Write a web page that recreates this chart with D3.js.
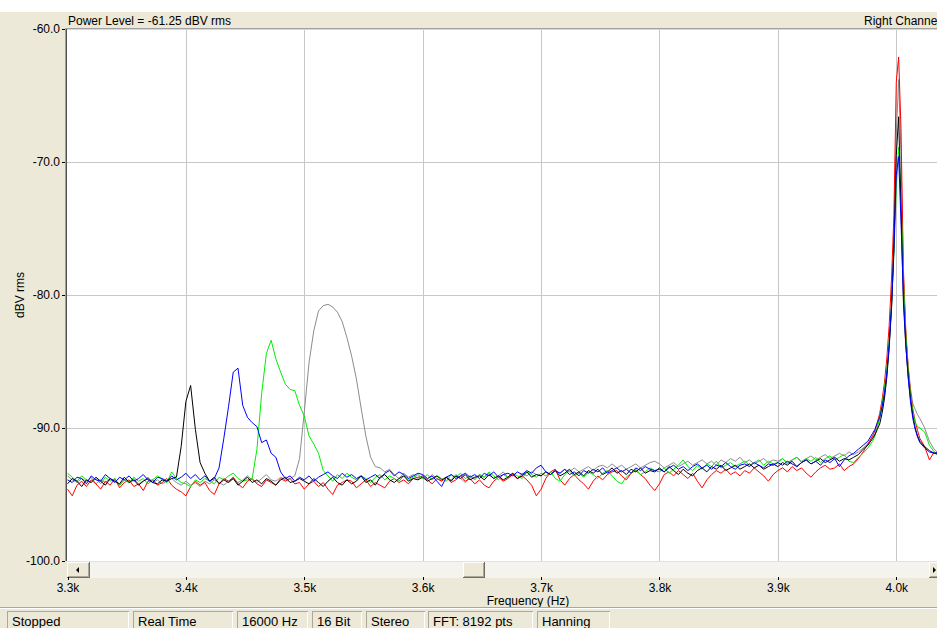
<!DOCTYPE html>
<html>
<head>
<meta charset="utf-8">
<script src="https://cdn.jsdelivr.net/npm/d3@7"></script>
<style>
html, body { margin: 0; padding: 0; background: #fff; overflow: hidden; }
svg { display: block; font-family: "Liberation Sans", Arial, sans-serif; }
</style>
</head>
<body>
<svg id="chart" width="937" height="628"></svg>
<script>
// ---- Axis ticks -------------------------------------------------------
const xTicks = [3300, 3400, 3500, 3600, 3700, 3800, 3900, 4000];
const xTickLabels = ["3.3k", "3.4k", "3.5k", "3.6k", "3.7k", "3.8k", "3.9k", "4.0k"];
const yTicks = [-60, -70, -80, -90, -100];

// ---- Frequency grid (Hz): 4 Hz bins, 2 Hz around the 4 kHz tone ------
const freqs = [].concat(
  d3.range(3300, 3981, 4),
  d3.range(3982, 4021, 2),
  d3.range(4024, 4037, 4)
);

// ---- Spectrum traces (dBV rms), one value per frequency bin ----------
const blackTrace = [
  -94.2, -93.8, -94.0, -94.4, -93.9, -94.1, -93.7, -94.0, -94.3, -93.8, -94.0, -94.2, -93.7, -94.1, -93.9, -94.3, -94.0, -93.8, -94.1, -94.2, -93.9, -94.0, -93.8, -93.7, -91.4,
  -88.0, -86.8, -90.1, -92.6, -93.4, -94.0, -93.7, -94.2, -93.9, -94.1, -93.8, -94.3, -94.0, -93.7, -94.1, -93.9, -94.2, -93.8, -94.0, -94.3, -93.9, -93.7, -94.1, -94.0, -93.8,
  -94.0, -94.2, -93.8, -94.1, -94.4, -94.0, -93.7, -94.1, -94.3, -93.9, -94.2, -94.0, -93.6, -94.1, -93.9, -94.3, -93.7, -93.5, -93.9, -94.1, -93.8, -93.6, -94.0, -93.8, -93.9,
  -93.7, -94.0, -93.8, -93.6, -93.9, -93.7, -94.0, -93.6, -93.8, -93.5, -93.9, -93.7, -93.6, -93.9, -93.5, -93.8, -93.6, -93.9, -93.7, -93.4, -93.8, -93.6, -93.3, -93.7, -93.5,
  -93.6, -93.3, -93.5, -93.2, -93.6, -93.4, -93.1, -93.5, -93.3, -93.6, -93.2, -93.4, -93.1, -93.5, -93.3, -93.0, -93.4, -93.2, -93.5, -93.1, -93.3, -93.0, -93.4, -93.2, -93.3,
  -93.0, -93.3, -92.9, -93.2, -93.5, -93.1, -93.4, -93.6, -93.2, -93.0, -93.3, -92.9, -93.1, -92.8, -93.2, -93.0, -92.8, -93.1, -92.9, -92.7, -93.0, -92.8, -93.1, -92.9, -92.7,
  -92.9, -92.6, -92.8, -92.5, -92.9, -92.6, -92.4, -92.7, -92.5, -92.3, -92.6, -92.4, -92.2, -92.5, -92.3, -92.4, -92.2, -92.0, -91.6, -91.3, -90.8,
  -90.5, -90.1, -89.7, -88.9, -87.8, -86.2, -84.0, -81.0, -76.5, -69.5, -66.6, -73.5, -80.5, -83.8, -86.0, -87.8, -89.1, -90.0, -90.6, -91.0,
  -91.4, -91.7, -91.9, -92.0
];

const blueTrace = [
  -93.9, -94.1, -93.7, -93.8, -94.2, -93.6, -93.9, -94.0, -93.5, -93.8, -94.1, -93.7, -93.9, -93.6, -94.0, -93.8, -93.5, -93.9, -94.1, -93.7, -93.8, -94.0, -93.6, -93.9, -93.7,
  -93.4, -93.8, -93.5, -93.9, -93.6, -94.0, -93.8, -93.0, -90.8, -88.4, -85.8, -85.5, -88.3, -89.2, -89.6, -89.9, -91.1, -90.9, -91.9, -92.2, -93.3, -93.8, -93.6, -94.0, -93.7,
  -93.9, -93.6, -94.0, -93.7, -93.5, -93.3, -93.6, -93.8, -93.4, -93.7, -93.5, -93.8, -93.6, -93.9, -93.7, -93.5, -93.8, -93.4, -93.2, -93.6, -93.3, -93.5, -93.8, -93.6, -93.4,
  -93.5, -93.8, -93.6, -94.0, -94.4, -93.7, -93.5, -93.8, -93.6, -93.4, -93.7, -93.5, -93.8, -93.4, -93.6, -93.3, -93.7, -93.5, -93.4, -93.6, -93.3, -93.5, -93.2, -93.4, -93.0,
  -92.8, -93.3, -93.5, -93.2, -93.4, -93.1, -93.5, -93.3, -93.6, -93.2, -93.4, -93.1, -93.3, -93.0, -93.4, -93.2, -93.0, -93.3, -93.1, -93.4, -93.0, -93.2, -92.9, -93.1, -93.2,
  -93.1, -93.3, -93.0, -92.8, -93.1, -92.9, -93.2, -92.9, -92.7, -93.0, -92.8, -93.1, -92.8, -92.9, -92.6, -92.9, -93.1, -92.8, -92.7, -92.9, -92.6, -92.8, -93.0, -92.7, -92.8,
  -92.6, -92.8, -92.5, -92.7, -92.9, -92.6, -92.4, -92.7, -92.5, -92.8, -92.4, -92.6, -92.3, -92.9, -92.4, -92.1, -91.9, -91.6, -91.3, -91.0, -90.4,
  -90.1, -89.6, -89.2, -88.4, -87.4, -85.9, -83.7, -80.8, -76.5, -71.0, -69.6, -74.5, -80.0, -83.6, -86.2, -88.0, -89.3, -90.1, -90.7, -91.1,
  -91.5, -91.8, -91.9, -91.8
];

const greenTrace = [
  -93.4, -93.7, -94.0, -93.6, -93.9, -94.1, -93.8, -94.2, -93.7, -94.0, -93.8, -94.3, -93.9, -94.1, -93.7, -94.0, -93.8, -94.2, -93.9, -93.6, -93.9, -94.1, -93.3, -93.8, -94.1,
  -94.2, -94.4, -93.9, -94.1, -93.8, -94.0, -94.2, -93.7, -93.9, -93.6, -93.4, -93.8, -94.0, -93.9, -93.8, -91.6, -87.4, -84.4, -83.4, -84.8, -85.8, -86.7, -87.1, -87.2, -88.3,
  -89.1, -90.6, -91.2, -91.9, -93.2, -93.6, -94.0, -93.5, -93.8, -93.4, -93.7, -93.9, -93.6, -93.8, -94.1, -93.7, -93.5, -93.9, -93.6, -93.8, -94.0, -93.6, -93.9, -93.7, -93.5,
  -93.8, -93.5, -93.9, -93.6, -93.8, -94.0, -93.5, -93.7, -93.4, -93.8, -93.6, -93.9, -93.5, -93.7, -93.3, -93.6, -93.9, -93.5, -93.7, -93.4, -93.6, -93.8, -93.3, -93.5, -93.7,
  -93.4, -93.6, -93.3, -93.8, -94.0, -93.5, -93.2, -93.6, -93.4, -93.7, -93.3, -93.5, -93.8, -93.4, -93.2, -93.6, -94.0, -94.2, -93.7, -93.4, -93.1, -93.5, -93.3, -93.0, -93.2,
  -93.3, -93.0, -93.4, -93.1, -92.8, -92.4, -92.9, -93.2, -92.8, -93.1, -92.7, -92.9, -92.5, -93.0, -92.8, -92.6, -92.9, -92.7, -92.5, -92.8, -92.6, -92.4, -92.8, -92.5, -92.7,
  -92.6, -92.3, -92.7, -92.4, -92.2, -92.6, -92.3, -92.5, -92.2, -92.6, -92.3, -92.1, -92.4, -92.2, -92.0, -92.5, -92.6, -92.2, -91.9, -91.5, -91.0,
  -90.6, -90.0, -89.2, -88.2, -87.0, -85.6, -83.5, -80.8, -77.0, -72.0, -68.9, -72.5, -79.0, -83.0, -85.6, -87.5, -88.8, -89.6, -89.9, -90.0,
  -90.3, -91.3, -91.8, -92.1
];

const grayTrace = [
  -93.6, -93.9, -94.1, -93.8, -94.0, -93.7, -94.2, -93.9, -94.1, -93.8, -94.0, -94.3, -93.9, -94.1, -93.8, -94.2, -94.0, -93.7, -94.1, -93.9, -94.2, -94.0, -93.8, -94.1, -94.3,
  -94.0, -94.3, -94.1, -94.4, -94.0, -94.2, -93.9, -94.1, -94.3, -94.0, -93.8, -94.1, -93.9, -93.6, -93.9, -94.1, -93.8, -93.5, -93.9, -94.0, -93.7, -93.9, -93.8, -93.6, -92.3,
  -88.8, -85.1, -82.7, -81.2, -80.8, -80.7, -80.9, -81.3, -82.0, -83.2, -84.6, -86.3, -88.5, -90.6, -92.2, -92.9, -93.0, -93.3, -93.1, -93.5, -93.8, -93.4, -93.7, -93.5, -93.8,
  -93.6, -93.9, -93.5, -93.8, -94.0, -93.7, -93.9, -93.5, -93.8, -94.1, -93.6, -93.8, -93.5, -93.7, -93.4, -93.8, -93.6, -93.3, -93.7, -93.5, -93.8, -93.4, -93.6, -93.3, -93.5,
  -93.6, -93.3, -93.5, -93.2, -93.4, -93.1, -93.3, -93.0, -93.3, -93.1, -92.9, -93.2, -92.9, -92.8, -93.0, -92.7, -93.0, -92.8, -93.1, -92.9, -92.7, -93.0, -92.8, -92.6, -92.5,
  -92.7, -93.0, -92.8, -92.6, -92.9, -92.7, -92.5, -92.8, -92.6, -92.4, -92.7, -92.5, -92.8, -92.4, -92.6, -92.3, -92.5, -92.2, -92.6, -92.4, -92.7, -92.5, -92.3, -92.6, -92.4,
  -92.5, -92.3, -92.6, -92.4, -92.2, -92.5, -92.3, -92.1, -92.4, -92.2, -92.0, -92.3, -92.1, -91.9, -92.1, -91.8, -92.0, -91.8, -91.5, -91.2, -90.7,
  -90.4, -89.9, -89.3, -88.5, -87.5, -86.0, -83.8, -80.6, -76.0, -68.0, -63.8, -69.5, -78.5, -82.8, -85.3, -87.0, -88.2, -88.6, -89.0, -89.3,
  -90.0, -91.0, -91.6, -91.9
];

const redTrace = [
  -94.6, -95.1, -94.3, -94.0, -94.4, -93.9, -94.2, -94.6, -94.0, -94.3, -93.8, -94.5, -94.1, -93.9, -94.4, -94.2, -94.7, -94.0, -93.9, -94.3, -94.1, -93.8, -94.3, -94.6, -94.8,
  -95.1, -94.4, -94.0, -94.3, -94.1, -94.7, -95.0, -94.2, -93.8, -94.0, -93.7, -94.2, -94.5, -94.0, -93.8, -94.2, -94.4, -93.9, -94.1, -94.3, -93.8, -94.0, -93.8, -94.2, -94.1,
  -94.6, -94.2, -94.0, -94.4, -94.1, -94.6, -95.0, -94.3, -94.1, -93.9, -94.0, -94.5, -94.2, -93.9, -94.4, -94.1, -94.3, -94.5, -94.0, -93.8, -94.1, -93.9, -94.2, -93.8, -93.7,
  -93.6, -93.9, -94.2, -93.8, -94.0, -93.7, -94.1, -93.9, -93.6, -94.0, -93.8, -94.2, -93.9, -94.3, -94.5, -94.0, -93.7, -94.0, -93.8, -93.5, -93.8, -93.6, -93.9, -94.3, -95.1,
  -94.6, -93.8, -93.3, -93.1, -93.9, -94.3, -93.8, -93.5, -93.9, -94.2, -94.6, -94.0, -93.6, -93.9, -93.5, -93.3, -93.2, -93.6, -93.9, -93.4, -93.2, -93.5, -93.8, -94.3, -94.7,
  -94.2, -93.5, -93.3, -93.6, -93.2, -93.5, -93.8, -93.4, -94.0, -94.5, -93.9, -93.5, -93.2, -93.4, -93.1, -93.5, -93.3, -93.6, -93.2, -93.4, -93.0, -93.3, -93.6, -94.0, -93.5,
  -93.2, -93.0, -93.3, -92.9, -93.2, -93.0, -93.4, -93.7, -93.3, -93.0, -92.8, -93.1, -93.0, -92.7, -93.2, -92.9, -92.7, -92.3, -91.8, -91.2, -90.6,
  -90.2, -89.6, -88.9, -87.9, -86.6, -84.8, -82.3, -78.8, -74.0, -64.0, -62.1, -67.5, -78.0, -82.6, -85.4, -87.3, -88.6, -89.5, -90.2, -90.8,
  -91.4, -92.4, -91.8, -92.0
];

// Drawing order (back to front) and trace colours
const traceOrder = ["gray", "red", "green", "black", "blue"];
const traceColors = { gray: "#8c8c8c", red: "#ff0000", green: "#00ee00", black: "#000000", blue: "#0000ff" };
const traceValues = { gray: grayTrace, red: redTrace, green: greenTrace, black: blackTrace, blue: blueTrace };

// ---- Layout -----------------------------------------------------------
const W = 937, H = 628;
const plot = { left: 67, top: 29, right: 937, bottom: 561 };
const face = "#ECE9D8";

const svg = d3.select("#chart");

const x = d3.scaleLinear().domain([3300, 4034.4]).range([67.5, 937]);
const y = d3.scaleLinear().domain([-100, -60]).range([561, 29]);

// window background
svg.append("rect").attr("x", 0).attr("y", 12).attr("width", W).attr("height", H - 12).attr("fill", face);

// plot area
svg.append("rect")
  .attr("x", plot.left).attr("y", plot.top)
  .attr("width", plot.right - plot.left).attr("height", plot.bottom - plot.top)
  .attr("fill", "#ffffff");

// grid
const grid = svg.append("g").attr("shape-rendering", "crispEdges").attr("stroke", "#c8c8c8").attr("stroke-width", 1);
grid.selectAll("line.v").data(xTicks.slice(1)).join("line").attr("class", "v")
  .attr("x1", d => Math.round(x(d)) + 0.5).attr("x2", d => Math.round(x(d)) + 0.5)
  .attr("y1", plot.top).attr("y2", plot.bottom);
grid.selectAll("line.h").data(yTicks.filter(d => d > -100 && d < -60)).join("line").attr("class", "h")
  .attr("x1", plot.left).attr("x2", plot.right)
  .attr("y1", d => Math.round(y(d)) + 0.5).attr("y2", d => Math.round(y(d)) + 0.5);

// traces
svg.append("clipPath").attr("id", "plotClip").append("rect")
  .attr("x", plot.left).attr("y", plot.top)
  .attr("width", plot.right - plot.left).attr("height", plot.bottom - plot.top);

const line = d3.line().x((d, i) => x(freqs[i])).y(d => y(d));
const traces = svg.append("g").attr("clip-path", "url(#plotClip)");
traceOrder.forEach(name => {
  traces.append("path")
    .datum(traceValues[name])
    .attr("fill", "none")
    .attr("stroke", traceColors[name])
    .attr("stroke-width", 1)
    .attr("stroke-linejoin", "round")
    .attr("d", line);
});

// sunken plot border (top + left)
const border = svg.append("g").attr("shape-rendering", "crispEdges");
border.append("line").attr("x1", 65).attr("x2", W).attr("y1", 28.5).attr("y2", 28.5).attr("stroke", "#a0a0a0");
border.append("line").attr("x1", 66).attr("x2", W).attr("y1", 29.5).attr("y2", 29.5).attr("stroke", "#d8d8d8");
border.append("line").attr("x1", 65.5).attr("x2", 65.5).attr("y1", 28).attr("y2", 561).attr("stroke", "#a0a0a0");
border.append("line").attr("x1", 66.5).attr("x2", 66.5).attr("y1", 29).attr("y2", 561).attr("stroke", "#505050");

// y axis
const yAxis = svg.append("g")
  .attr("transform", "translate(65,0)")
  .call(d3.axisLeft(y).tickValues(yTicks).tickSize(3).tickPadding(2).tickFormat(d => d.toFixed(1)));
yAxis.select(".domain").remove();
yAxis.selectAll("line").attr("stroke", "#000").attr("shape-rendering", "crispEdges");
yAxis.selectAll("text").attr("font-size", 12).attr("fill", "#000").attr("font-family", "Liberation Sans, Arial, sans-serif");

svg.append("text")
  .attr("transform", "translate(24,295) rotate(-90)")
  .attr("text-anchor", "middle")
  .attr("font-size", 12)
  .attr("fill", "#000")
  .text("dBV rms");

// header texts (the channel name runs past the window edge)
svg.append("text").attr("x", 68).attr("y", 25).attr("font-size", 12).attr("fill", "#000")
  .text("Power Level = -61.25 dBV rms");
svg.append("text").attr("x", 864).attr("y", 25).attr("font-size", 12).attr("fill", "#000")
  .text("Right Channel");

// ---- horizontal scrollbar --------------------------------------------
const sb = svg.append("g").attr("shape-rendering", "crispEdges");
sb.append("rect").attr("x", 67).attr("y", 561).attr("width", W - 67).attr("height", 17).attr("fill", "#f4f3ee");
sb.append("line").attr("x1", 67).attr("x2", W).attr("y1", 561.5).attr("y2", 561.5).attr("stroke", "#e2e1da");

function raisedButton(g, bx, by, bw, bh) {
  g.append("rect").attr("x", bx).attr("y", by).attr("width", bw).attr("height", bh).attr("fill", face);
  g.append("path").attr("fill", "none").attr("stroke", "#ffffff")
    .attr("d", `M${bx + 0.5},${by + bh - 1}V${by + 0.5}H${bx + bw - 1}`);
  g.append("path").attr("fill", "none").attr("stroke", "#aca899")
    .attr("d", `M${bx + 1},${by + bh - 1.5}H${bx + bw - 1.5}V${by + 1}`);
  g.append("path").attr("fill", "none").attr("stroke", "#716f64")
    .attr("d", `M${bx},${by + bh - 0.5}H${bx + bw - 0.5}V${by}`);
}
raisedButton(sb, 67, 562, 23, 16);
raisedButton(sb, 463, 562, 22, 16);
raisedButton(sb, 929, 562, 12, 16);
svg.append("path").attr("fill", "#000").attr("d", "M76,570 L79,567 L79,573 Z");
svg.append("path").attr("fill", "#000").attr("d", "M936,570 L933,567 L933,573 Z");

// x axis
const xAxis = svg.append("g")
  .attr("transform", "translate(0,577)")
  .call(d3.axisBottom(x).tickValues(xTicks).tickSize(3).tickPadding(3).tickFormat((d, i) => xTickLabels[i]));
xAxis.select(".domain").remove();
xAxis.selectAll("line").attr("stroke", "#000").attr("shape-rendering", "crispEdges");
xAxis.selectAll("text").attr("font-size", 12).attr("fill", "#000").attr("font-family", "Liberation Sans, Arial, sans-serif");

svg.append("text").attr("x", 528).attr("y", 605).attr("text-anchor", "middle").attr("font-size", 12).attr("fill", "#000")
  .text("Frequency (Hz)");

// ---- status bar ------------------------------------------------------
const status = svg.append("g").attr("shape-rendering", "crispEdges");
status.append("line").attr("x1", 0).attr("x2", W).attr("y1", 607.5).attr("y2", 607.5).attr("stroke", "#aca899");
status.append("line").attr("x1", 0).attr("x2", W).attr("y1", 608.5).attr("y2", 608.5).attr("stroke", "#ffffff");

const statusLabels = ["Stopped", "Real Time", "16000 Hz", "16 Bit", "Stereo", "FFT: 8192 pts", "Hanning"];
const statusPanels = [[7, 129], [133, 233], [237, 308], [312, 362], [366, 425], [428, 533], [537, 610]];
statusPanels.forEach((p, i) => {
  const [a, b] = p;
  status.append("path").attr("fill", "none").attr("stroke", "#aca899")
    .attr("d", `M${a + 0.5},${H}V${611.5}H${b}`);
  status.append("path").attr("fill", "none").attr("stroke", "#ffffff")
    .attr("d", `M${b - 0.5},${612}V${H}`);
  svg.append("text").attr("x", a + 5).attr("y", 626).attr("font-size", 13).attr("fill", "#000")
    .text(statusLabels[i]);
});
</script>
</body>
</html>
